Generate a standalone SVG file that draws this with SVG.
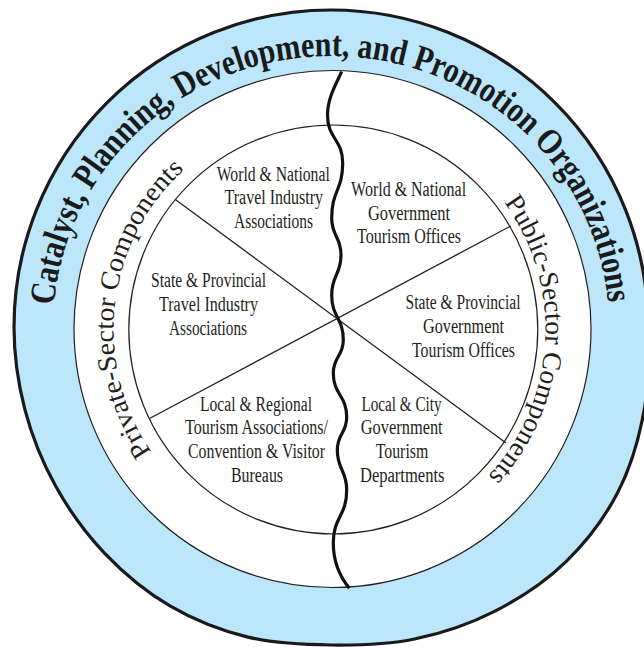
<svg xmlns="http://www.w3.org/2000/svg" width="644" height="647" viewBox="0 0 644 647">
<style>
.lbl{font-family:"Liberation Serif","Times New Roman",serif;font-size:20px;fill:#231f20;text-anchor:middle;}
.side{font-family:"Liberation Serif","Times New Roman",serif;font-size:27px;fill:#231f20;}
.title{font-family:"Liberation Serif","Times New Roman",serif;font-size:36px;font-weight:bold;fill:#1a1a1a;}
.thin{fill:none;stroke:#231f20;stroke-width:1.2;}
</style>
<defs>
<path id="titlePath" d="M 53.9,305.3 A 278 271 0 0 1 608.1,305.3"/>
<path id="privPath" d="M 151.5,451.8 A 216 216 0 0 1 184.4,169.5"/>
<path id="pubPath" d="M 504.2,202.5 A 216 216 0 0 1 488.2,476"/>
</defs>
<g id="outer-ring">
<path d="M 14,327 A 317 317 0 0 1 648,327 C 649.1,354.7 649.1,383.3 644,410.9 C 639,438.5 630.7,467.4 617.7,492.5 C 604.7,517.7 586.3,542 565.8,561.8 C 545.4,581.6 520.2,598.2 495,611.1 C 469.8,624 441.9,633.4 414.6,639 C 387.3,644.7 358.8,645.3 331,645 C 303.2,644.7 274.7,643.6 247.9,637.1 C 221.1,630.6 193.9,619.9 170,605.9 C 146.1,591.9 123.8,573.3 104.7,553.3 C 85.6,533.3 68.9,510 55.6,486 C 42.3,462 31.7,435.6 24.8,409.1 C 17.9,382.6 14,354.4 14,327 Z" fill="#bce6f9" stroke="#1a1a1a" stroke-width="3.2"/>
<text class="title"><textPath href="#titlePath" textLength="816" lengthAdjust="spacingAndGlyphs">Catalyst, Planning, Development, and Promotion Organizations</textPath></text>
</g>
<g id="middle-ring">
<circle cx="332.5" cy="329" r="258.5" class="thin" style="fill:#fff"/>
<text class="side"><textPath href="#privPath" textLength="310" lengthAdjust="spacingAndGlyphs">Private-Sector Components</textPath></text>
<text class="side"><textPath href="#pubPath" textLength="297" lengthAdjust="spacingAndGlyphs">Public-Sector Components</textPath></text>
</g>
<g id="inner-circle">
<circle cx="333.3" cy="329.5" r="204.5" class="thin"/>
</g>
<g id="connectors">
<line x1="175" y1="199.3" x2="505.7" y2="442.7" stroke="#231f20" stroke-width="1.3"/>
<line x1="510.7" y1="226" x2="150" y2="418.3" stroke="#231f20" stroke-width="1.3"/>
<path d="M 341.7,71.7 C 336,84 327.5,98 327.5,115 C 327.5,139 342.7,139 342.7,163 C 342.7,190.5 331.7,190.5 331.7,218 C 331.7,236.5 341,236.5 341,255 C 341,275 331.7,275 331.7,295 C 331.7,317.5 343.3,317.5 343.3,340 C 343.3,356.5 333.3,356.5 333.3,373 C 333.3,395 346.7,395 346.7,417 C 346.7,433.5 337.3,433.5 337.3,450 C 337.3,470 346.7,470 346.7,490 C 346.7,516.5 333.3,516.5 333.3,543 C 333.3,563 341,578 349.3,588.3" fill="none" stroke="#111" stroke-width="3.2"/>
</g>
<g id="world-national-travel">
<text class="lbl" x="273.3" y="181" textLength="113" lengthAdjust="spacingAndGlyphs">World &amp; National</text>
<text class="lbl" x="273.8" y="204" textLength="98.5" lengthAdjust="spacingAndGlyphs">Travel Industry</text>
<text class="lbl" x="273.5" y="228" textLength="79" lengthAdjust="spacingAndGlyphs">Associations</text>
</g>
<g id="world-national-government">
<text class="lbl" x="408.6" y="196" textLength="115" lengthAdjust="spacingAndGlyphs">World &amp; National</text>
<text class="lbl" x="409" y="220" textLength="82" lengthAdjust="spacingAndGlyphs">Government</text>
<text class="lbl" x="409" y="243" textLength="104" lengthAdjust="spacingAndGlyphs">Tourism Offices</text>
</g>
<g id="state-provincial-travel">
<text class="lbl" x="208.5" y="287" textLength="115" lengthAdjust="spacingAndGlyphs">State &amp; Provincial</text>
<text class="lbl" x="208.5" y="311" textLength="99" lengthAdjust="spacingAndGlyphs">Travel Industry</text>
<text class="lbl" x="208" y="335" textLength="78" lengthAdjust="spacingAndGlyphs">Associations</text>
</g>
<g id="state-provincial-government">
<text class="lbl" x="463" y="309" textLength="115" lengthAdjust="spacingAndGlyphs">State &amp; Provincial</text>
<text class="lbl" x="463.5" y="333" textLength="81" lengthAdjust="spacingAndGlyphs">Government</text>
<text class="lbl" x="463.5" y="357" textLength="103" lengthAdjust="spacingAndGlyphs">Tourism Offices</text>
</g>
<g id="local-regional">
<text class="lbl" x="256" y="410.5" textLength="112" lengthAdjust="spacingAndGlyphs">Local &amp; Regional</text>
<text class="lbl" x="256.5" y="434" textLength="143" lengthAdjust="spacingAndGlyphs">Tourism Associations/</text>
<text class="lbl" x="256.5" y="458" textLength="137" lengthAdjust="spacingAndGlyphs">Convention &amp; Visitor</text>
<text class="lbl" x="257" y="482" textLength="52" lengthAdjust="spacingAndGlyphs">Bureaus</text>
</g>
<g id="local-city">
<text class="lbl" x="401.5" y="410.5" textLength="80" lengthAdjust="spacingAndGlyphs">Local &amp; City</text>
<text class="lbl" x="401.7" y="434" textLength="82" lengthAdjust="spacingAndGlyphs">Government</text>
<text class="lbl" x="402" y="458" textLength="52.5" lengthAdjust="spacingAndGlyphs">Tourism</text>
<text class="lbl" x="402.2" y="482" textLength="84.5" lengthAdjust="spacingAndGlyphs">Departments</text>
</g>
</svg>
